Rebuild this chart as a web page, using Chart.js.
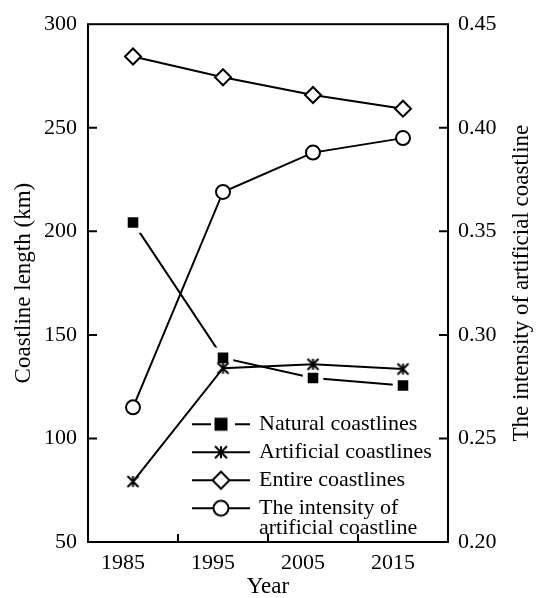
<!DOCTYPE html>
<html>
<head>
<meta charset="utf-8">
<script src="https://cdn.jsdelivr.net/npm/chart.js@4"></script>
<style>
  html, body { margin: 0; padding: 0; background: #fff; }
</style>
</head>
<body>
<canvas id="coastline-chart" width="542" height="598"></canvas>
<script>
// values
const years = ['1985', '1995', '2005', '2015'];
const naturalKm = [204.3, 138.9, 129.2, 125.6];
const artificialKm = [79.2, 133.9, 135.8, 133.5];
const entireKm = [284.4, 274.4, 265.8, 259.2];
const intensity = [0.265, 0.369, 0.388, 0.395];
const lengthTicks = [50, 100, 150, 200, 250, 300];
const intensityTicks = [0.20, 0.25, 0.30, 0.35, 0.40, 0.45];
const legendNames = ['Natural coastlines', 'Artificial coastlines', 'Entire coastlines',
  ['The intensity of', 'artificial coastline']];

const serif = '"Liberation Serif", "Times New Roman", serif';
Chart.defaults.font.family = serif;
Chart.defaults.font.size = 22;
Chart.defaults.color = '#000';

function makeCanvas(w, h) {
  const c = document.createElement('canvas');
  c.width = w; c.height = h;
  return c;
}

function drawStar(g, cx, cy, r) {
  g.beginPath();
  g.moveTo(cx, cy - r); g.lineTo(cx, cy + r);
  g.moveTo(cx - r, cy - r); g.lineTo(cx + r, cy + r);
  g.moveTo(cx + r, cy - r); g.lineTo(cx - r, cy + r);
  g.stroke();
}

// asterisk marker used on the plot
const starPoint = makeCanvas(15, 15);
(function () {
  const g = starPoint.getContext('2d');
  g.strokeStyle = '#000'; g.lineWidth = 2;
  drawStar(g, 7.5, 7.5, 5.5);
})();

// legend symbols: line with the marker in the middle
function legendSymbol(kind) {
  const c = makeCanvas(58, 22);
  const g = c.getContext('2d');
  const cx = 29, cy = 11;
  g.strokeStyle = '#000'; g.lineWidth = 2;
  if (kind === 'rect') {
    g.beginPath();
    g.moveTo(0, cy); g.lineTo(19, cy);
    g.moveTo(43, cy); g.lineTo(58, cy);
    g.stroke();
    g.fillStyle = '#000';
    g.fillRect(cx - 6.5, cy - 6.5, 13, 13);
    return c;
  }
  g.beginPath(); g.moveTo(0, cy); g.lineTo(58, cy); g.stroke();
  g.fillStyle = '#fff';
  if (kind === 'star') {
    drawStar(g, cx, cy, 6);
  } else if (kind === 'diamond') {
    g.beginPath();
    g.moveTo(cx - 8.5, cy); g.lineTo(cx, cy - 8.5); g.lineTo(cx + 8.5, cy); g.lineTo(cx, cy + 8.5);
    g.closePath(); g.fill(); g.stroke();
  } else {
    g.beginPath(); g.arc(cx, cy, 7.5, 0, Math.PI * 2); g.fill(); g.stroke();
  }
  return c;
}
const legendSymbols = [legendSymbol('rect'), legendSymbol('star'), legendSymbol('diamond'), legendSymbol('circle')];

// box, inward tick marks, legend placement and the right-hand title
const frame = {
  id: 'frame',
  afterLayout(chart) {
    const lg = chart.legend;
    const pad = lg.options.labels.padding;
    const w = lg.right - lg.left, h = lg.bottom - lg.top;
    lg.left = chart.chartArea.left + 106 - pad;
    lg.top = chart.chartArea.top + 389 - pad;
    lg.right = lg.left + w;
    lg.bottom = lg.top + h;
  },
  beforeDatasetsDraw(chart) {
    const { ctx, chartArea: a, scales } = chart;
    ctx.save();
    ctx.strokeStyle = '#000';
    ctx.lineWidth = 2;
    ctx.strokeRect(a.left, a.top, a.right - a.left, a.bottom - a.top);
    ctx.beginPath();
    scales.y.ticks.forEach(t => {
      const py = scales.y.getPixelForValue(t.value);
      if (py > a.top + 2 && py < a.bottom - 2) { ctx.moveTo(a.left, py); ctx.lineTo(a.left + 9, py); }
    });
    scales.y1.ticks.forEach(t => {
      const py = scales.y1.getPixelForValue(t.value);
      if (py > a.top + 2 && py < a.bottom - 2) { ctx.moveTo(a.right, py); ctx.lineTo(a.right - 9, py); }
    });
    for (let i = 0; i < years.length - 1; i++) {
      const px = scales.x.getPixelForValue(i + 0.5);
      ctx.moveTo(px, a.bottom); ctx.lineTo(px, a.bottom - 8);
    }
    ctx.stroke();
    ctx.restore();
  },
  afterDraw(chart) {
    const { ctx, chartArea: a } = chart;
    ctx.save();
    ctx.translate(522, (a.top + a.bottom) / 2);
    ctx.rotate(-Math.PI / 2);
    ctx.font = '23px ' + serif;
    ctx.fillStyle = '#000';
    ctx.textAlign = 'center';
    ctx.textBaseline = 'middle';
    ctx.fillText('The intensity of artificial coastline', 0, 0);
    ctx.restore();
  }
};

const ctx = document.getElementById('coastline-chart').getContext('2d');

const coastChart = new Chart(ctx, {
  type: 'line',
  data: {
    labels: years,
    datasets: [{
      label: 'Natural coastlines',
      data: naturalKm,
      yAxisID: 'y',
      borderColor: '#000',
      borderWidth: 2,
      pointStyle: 'rect',
      pointRadius: 11,
      pointBackgroundColor: '#000',
      pointBorderColor: '#fff',
      pointBorderWidth: 5,
      order: 5
    }, {
      label: 'Artificial coastlines',
      data: artificialKm,
      yAxisID: 'y',
      borderColor: '#000',
      borderWidth: 2,
      pointStyle: starPoint,
      pointRadius: 7
    }, {
      label: 'Entire coastlines',
      data: entireKm,
      yAxisID: 'y',
      borderColor: '#000',
      borderWidth: 2,
      pointStyle: 'rectRot',
      pointRadius: 8,
      pointBackgroundColor: '#fff',
      pointBorderColor: '#000',
      pointBorderWidth: 2
    }, {
      label: 'The intensity of artificial coastline',
      data: intensity,
      yAxisID: 'y1',
      borderColor: '#000',
      borderWidth: 2,
      pointStyle: 'circle',
      pointRadius: 7,
      pointBackgroundColor: '#fff',
      pointBorderColor: '#000',
      pointBorderWidth: 2
    }]
  },
  options: {
    responsive: false,
    animation: false,
    devicePixelRatio: 1,
    layout: { padding: { top: 11, left: 0, right: 0, bottom: 0 } },
    plugins: {
      tooltip: { enabled: false },
      legend: {
        position: 'chartArea',
        align: 'start',
        labels: {
          usePointStyle: true,
          pointStyleWidth: 54,
          padding: 6,
          color: '#000',
          font: { size: 22, family: serif, lineHeight: 0.92 },
          generateLabels(chart) {
            return chart.data.datasets.map((ds, i) => ({
              text: legendNames[i],
              datasetIndex: i,
              pointStyle: legendSymbols[i],
              fillStyle: '#000',
              strokeStyle: '#000',
              lineWidth: 0,
              hidden: false,
              fontColor: '#000'
            }));
          }
        }
      }
    },
    scales: {
      x: {
        offset: true,
        grid: { display: false, drawTicks: false, offset: true },
        border: { display: false },
        ticks: { padding: 8, labelOffset: -10, maxRotation: 0 },
        title: { display: true, text: 'Year', padding: { top: 0, bottom: 0 }, font: { size: 23, lineHeight: 1 } },
        afterFit(scale) { scale.height = 56; }
      },
      y: {
        position: 'left',
        min: lengthTicks[0],
        max: lengthTicks[lengthTicks.length - 1],
        grid: { display: false, drawTicks: false },
        border: { display: false },
        ticks: { padding: 11 },
        afterBuildTicks(scale) { scale.ticks = lengthTicks.map(v => ({ value: v })); },
        title: { display: true, text: 'Coastline length (km)', padding: { top: 12, bottom: 0 }, font: { size: 23, lineHeight: 1 } },
        afterFit(scale) { scale.width = 88; }
      },
      y1: {
        position: 'right',
        min: intensityTicks[0],
        max: intensityTicks[intensityTicks.length - 1],
        grid: { display: false, drawTicks: false },
        border: { display: false },
        ticks: { padding: 10, callback: v => Number(v).toFixed(2) },
        afterBuildTicks(scale) { scale.ticks = intensityTicks.map(v => ({ value: v })); },
        afterFit(scale) { scale.width = 94; }
      }
    }
  },
  plugins: [frame]
});
</script>
</body>
</html>
